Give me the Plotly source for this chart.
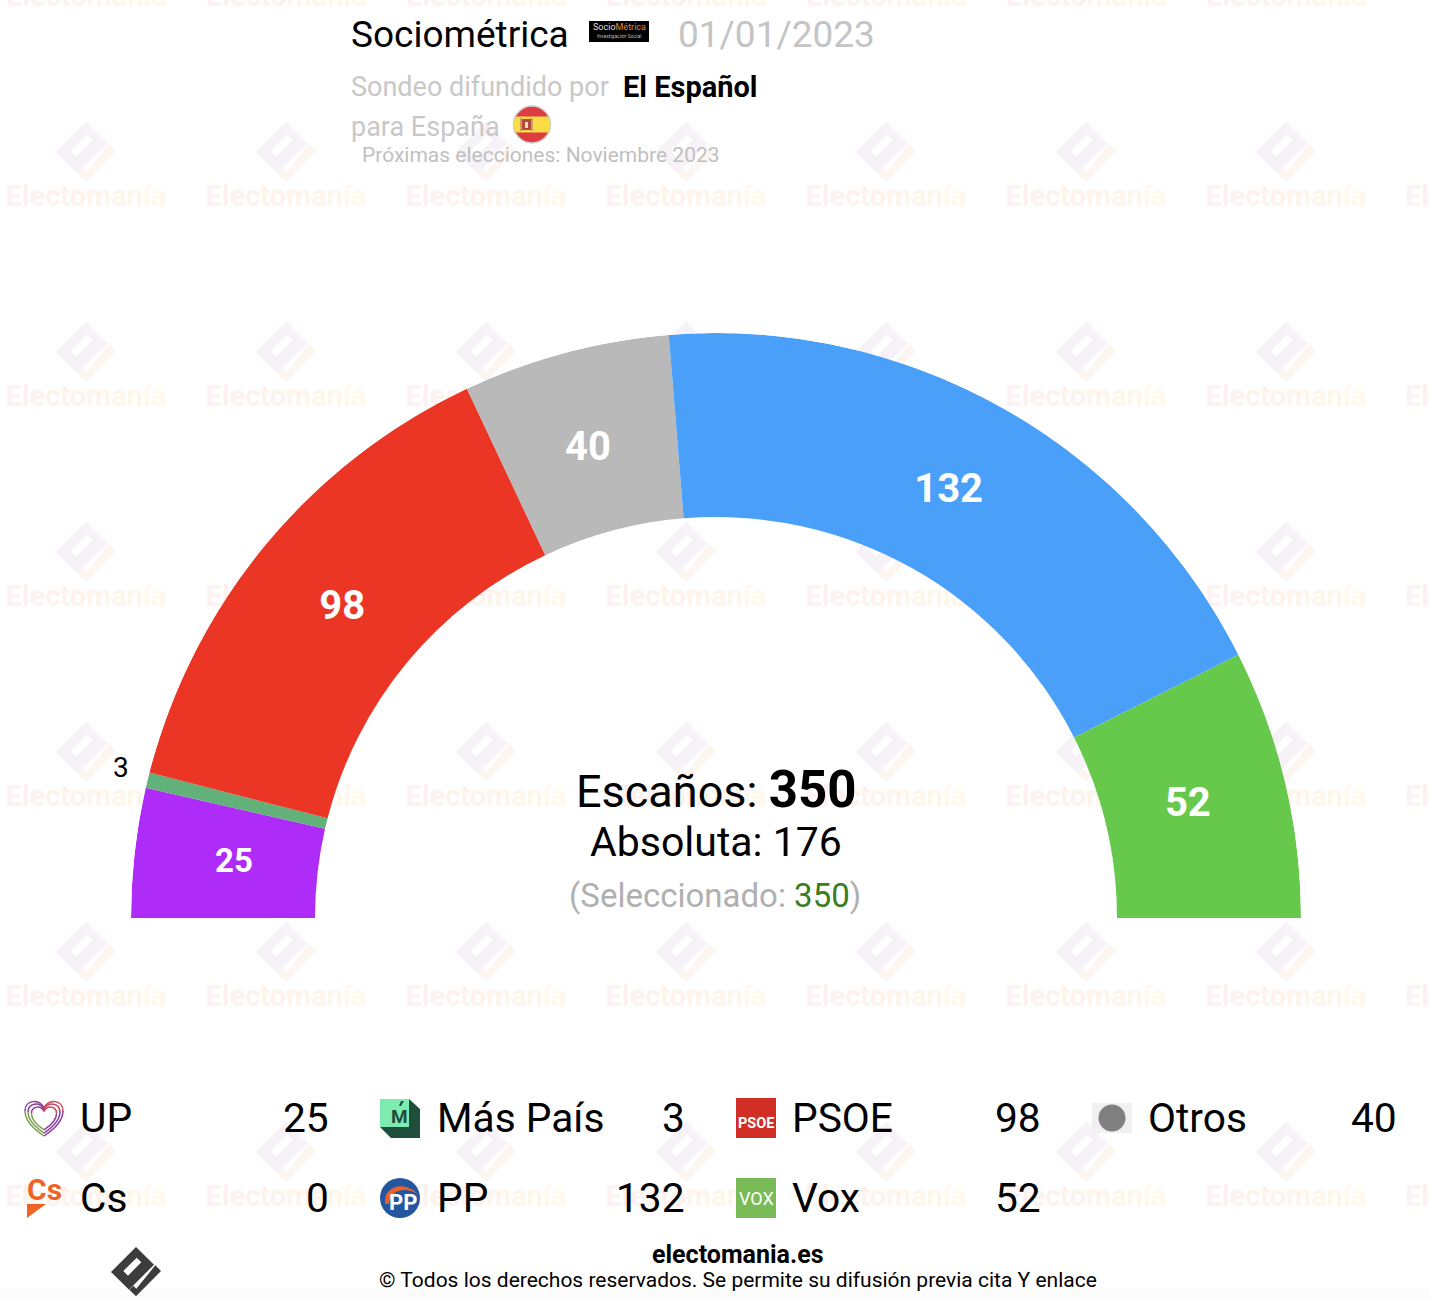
import math

import plotly.graph_objects as go

W, H = 1430, 1298

# ── Data ────────────────────────────────────────────────────────────────────
parties = ["UP", "Más País", "PSOE", "Otros", "PP", "Vox"]
seats = [25, 3, 98, 40, 132, 52]
colors = ["#ae2bf8", "#62b17a", "#ec3625", "#b9b9b9", "#4aa0f9", "#66c94b"]
label_sizes = [33, 28, 40, 40, 40, 40]
label_shift = [0, 0.6, 0, -0.4, -0.65, 0]

legend_row_1 = ["UP", "Más País", "PSOE", "Otros"]
legend_seats_1 = [25, 3, 98, 40]
legend_row_2 = ["Cs", "PP", "Vox"]
legend_seats_2 = [0, 132, 52]

total_seats = 350
majority = 176
selected = 350

# ── Geometry ────────────────────────────────────────────────────────────────
CX, CY = 716, 918
R_OUT, R_IN = 585, 401
R_LABEL = 485
R_LABEL_OUT = 614

name_x = [80, 437, 792, 1148]
value_x = [329, 685, 1041, 1397]
row_y = [1118, 1198]

degs = [s * 180 / sum(seats) for s in seats]
mids = []
acc = 0
for d in degs:
    mids.append(acc + d / 2)
    acc += d

fig = go.Figure()
shapes = []
annotations = []


def label(x, y, s, size, color="#000000", bold=False, anchor="center", yshift=0):
    xshift = {"left": -2.5, "right": 2}.get(anchor, 0)
    annotations.append(dict(
        x=x, y=y, xref="x", yref="y", text=s, showarrow=False, xanchor=anchor, yanchor="middle",
        xshift=xshift, yshift=yshift,
        font=dict(family="Roboto", size=size, color=color, weight=700 if bold else 400),
    ))


def poly(points, fill, layer="above"):
    path = "M" + " L".join(f"{x:.2f},{y:.2f}" for x, y in points) + " Z"
    shapes.append(dict(type="path", path=path, xref="x", yref="y", fillcolor=fill,
                       line=dict(width=0), layer=layer))


def rect(x0, y0, x1, y1, fill, layer="above"):
    shapes.append(dict(type="rect", x0=x0, y0=y0, x1=x1, y1=y1, xref="x", yref="y",
                       fillcolor=fill, line=dict(width=0), layer=layer))


def circle(cx, cy, r, fill, line_color=None, line_width=0, layer="above"):
    shapes.append(dict(type="circle", x0=cx - r, y0=cy - r, x1=cx + r, y1=cy + r, xref="x", yref="y",
                       fillcolor=fill, line=dict(width=line_width, color=line_color), layer=layer))


def site_logo(cx, cy, size, block, stripe, layer):
    s = size / 150
    def pt(x, y):
        return f"{cx + (x - 408) * s:.2f},{cy + (y - 575) * s:.2f}"
    path = ("M" + " L".join(pt(*p) for p in [(408, 500), (462, 553), (387, 628), (333, 575)]) + " Z "
            "M" + " L".join(pt(*p) for p in [(410, 532), (424, 546), (384, 586), (370, 572)]) + " Z")
    shapes.append(dict(type="path", path=path, xref="x", yref="y", fillcolor=block, fillrule="evenodd",
                       line=dict(width=0), layer=layer))
    p2 = [(483, 572), (408, 648), (388, 628), (400, 616), (409, 625), (466, 555)]
    poly([(cx + (x - 408) * s, cy + (y - 575) * s) for x, y in p2], stripe, layer)


# ── Watermark ───────────────────────────────────────────────────────────────
mark_colors = ["#fdf1f1", "#fdf1f0", "#fdf2ef", "#fdf2ee", "#fdf3ed", "#fdf3ec",
               "#fef4ec", "#fef5eb", "#fef6eb", "#fff7eb", "#fff8eb"]
mark_text = "".join(f'<span style="color:{c}">{ch}</span>' for ch, c in zip("Electomanía", mark_colors))
mark_x = [86 + 200 * i for i in range(7)]
mark_y = [196 + 200 * i for i in range(6)]

xs, ys = [], []
for y in mark_y:
    for x in mark_x:
        xs.append(x)
        ys.append(y + 3)
        site_logo(x, y - 44, 61, "#f6f2f8", "#fdf5f0", "below")
    label(1405, y, mark_text, 29, "#fdf1f1", bold=True, anchor="left")
for x in mark_x:
    label(x, 0, mark_text, 29, "#fdf1f1", bold=True, yshift=4)

fig.add_trace(go.Scatter(
    x=xs, y=ys, mode="text", text=[mark_text] * len(xs), cliponaxis=False, hoverinfo="skip",
    textposition="middle center", textfont=dict(family="Roboto", size=29, weight=700, color="#fdf1f1"),
    showlegend=False,
))
rect(0, 1288, W, H, "#fcfcfc", "below")

# ── Hemicycle ───────────────────────────────────────────────────────────────
fig.add_trace(go.Barpolar(
    theta=mids, width=degs, r=[R_OUT - R_IN] * len(seats), base=R_IN,
    marker=dict(color=colors, line=dict(width=0)), opacity=1, hoverinfo="skip", showlegend=False,
))
fig.add_trace(go.Scatterpolar(
    theta=[m + d for m, d in zip(mids, label_shift)], r=[R_LABEL] * len(seats), mode="text",
    text=[str(s) if s >= 10 else "" for s in seats], cliponaxis=False, hoverinfo="skip", showlegend=False,
    textfont=dict(family="Roboto", size=label_sizes, color="#ffffff", weight=700),
))
# too thin for an inside label, it sits outside the ring
for m, d, s, size in zip(mids, label_shift, seats, label_sizes):
    if s < 10:
        a = math.radians(m + d)
        label(CX - R_LABEL_OUT * math.cos(a), CY - R_LABEL_OUT * math.sin(a), str(s), size)

# ── Header ──────────────────────────────────────────────────────────────────
label(351, 34, "Sociométrica", 37, anchor="left")
rect(589, 21, 649, 42, "#000000")
label(619, 27, 'Socio<span style="color:#e08a2a">Métrica</span>', 9, "#dddddd")
label(619, 36, "Investigación Social", 5, "#bbbbbb")
label(678, 34, "01/01/2023", 37, "#c4c4c4", anchor="left")
label(351, 87, "Sondeo difundido por", 27, "#c8c8c8", anchor="left")
label(623, 87, "El Español", 29, bold=True, anchor="left")
label(351, 127, "para España", 27, "#c8c8c8", anchor="left")
label(362, 155, "Próximas elecciones: Noviembre 2023", 21, "#c0c0c0", anchor="left")

# flag
circle(532, 124.5, 18.5, "#dd3c40", "#cfcfcf", 1.5)
shapes.append(dict(type="path", path="M516,116.5 L548,116.5 C551,121 551,128 548,132.5 L516,132.5 C513,128 513,121 516,116.5 Z",
                   xref="x", yref="y", fillcolor="#f9dc46", line=dict(width=0), layer="above"))
rect(520, 118, 522, 131, "#c9a05a")
rect(522, 119, 531, 130, "#b3483e")
rect(531, 118, 533, 131, "#c9a05a")
rect(525, 122, 528, 128, "#e9d9b0")

# ── Centre text ─────────────────────────────────────────────────────────────
label(716, 789, f"Escaños: <b style='font-size:51px'>{total_seats}</b>", 45)
label(716, 842, f"Absoluta: {majority}", 41)
label(715, 895, f'(Seleccionado: <span style="color:#3a7d1e">{selected}</span>)', 33, "#b0b0b0")

# ── Legend ──────────────────────────────────────────────────────────────────
for i, (name, val) in enumerate(zip(legend_row_1, legend_seats_1)):
    label(name_x[i], row_y[0], name, 40.7, anchor="left")
    label(value_x[i], row_y[0], str(val), 40.7, anchor="right")
for i, (name, val) in enumerate(zip(legend_row_2, legend_seats_2)):
    label(name_x[i], row_y[1], name, 40.7, anchor="left")
    label(value_x[i], row_y[1], str(val), 40.7, anchor="right")


def heart(cx, cy, s):
    def p(x, y):
        return f"{cx + x * s:.2f},{cy + y * s:.2f}"
    parts = [
        (f"M{p(0, -10)} C{p(-5, -20)} {p(-19, -18)} {p(-19, -7)}", "#8b3f9f"),
        (f"M{p(-19, -7)} C{p(-19, 2)} {p(-12, 10)} {p(0, 18)}", "#7fa052"),
        (f"M{p(0, -10)} C{p(5, -20)} {p(19, -18)} {p(19, -7)}", "#c8465e"),
        (f"M{p(19, -7)} C{p(19, 2)} {p(12, 10)} {p(0, 18)}", "#8b3f9f"),
    ]
    for path, color in parts:
        shapes.append(dict(type="path", path=path, xref="x", yref="y", line=dict(width=1.5, color=color),
                           fillcolor="rgba(0,0,0,0)", layer="above"))


heart(44, 1118, 1.0)
heart(44, 1118, 0.84)
heart(44, 1118, 0.66)

# Más País
rect(380, 1099, 409, 1127, "#7eebb0")
poly([(380, 1127), (409, 1127), (409, 1099), (420, 1109), (420, 1138), (391, 1138)], "#1f4e3d")
label(399, 1116, "M", 19, "#1f4e3d", bold=True)
poly([(401, 1101), (404, 1101), (401, 1106), (399, 1106)], "#1f4e3d")

# PSOE
rect(736, 1098, 776, 1138, "#d12e26")
label(756, 1123, "PSOE", 14.5, "#ffffff", bold=True)

# Otros
rect(1092, 1103, 1132, 1133, "#f0f0f0")
circle(1112, 1118, 13.5, "#808080")

# Cs
label(44, 1189, "Cs", 30, "#ef6327", bold=True)
poly([(27, 1204), (46, 1204), (27, 1218)], "#ef6327")

# PP
circle(400, 1198, 20, "#23569f")
shapes.append(dict(type="path", path="M385,1204 C383,1186 404,1180 418,1194 C404,1186 391,1190 389,1204 Z",
                   xref="x", yref="y", fillcolor="#e8622c", line=dict(width=0), layer="above"))
label(403, 1202, "PP", 22, "#ffffff", bold=True)

# Vox
rect(736, 1178, 776, 1218, "#79bb57")
label(756, 1198, "VOX", 18, "#ffffff")

# ── Footer ──────────────────────────────────────────────────────────────────
site_logo(136, 1272, 50, "#3c3c3c", "#3c3c3c", "above")
label(738, 1254, "electomania.es", 25, bold=True)
label(738, 1280, "© Todos los derechos reservados. Se permite su difusión previa cita Y enlace", 21)

fig.update_layout(
    width=W, height=H, margin=dict(l=0, r=0, t=0, b=0),
    paper_bgcolor="#ffffff", plot_bgcolor="rgba(0,0,0,0)", showlegend=False,
    xaxis=dict(range=[0, W], visible=False, domain=[0, 1], fixedrange=True),
    yaxis=dict(range=[H, 0], visible=False, domain=[0, 1], fixedrange=True),
    polar=dict(
        domain=dict(x=[(CX - R_OUT) / W, (CX + R_OUT) / W], y=[(H - CY) / H, (H - CY + R_OUT) / H]),
        sector=[0, 180], bgcolor="rgba(0,0,0,0)",
        radialaxis=dict(range=[0, R_OUT], visible=False),
        angularaxis=dict(visible=False, rotation=180, direction="clockwise", thetaunit="degrees"),
        barmode="overlay",
    ),
    shapes=shapes, annotations=annotations,
)

fig.write_html("out.html", config=dict(displayModeBar=False), post_script="document.body.style.margin='0';")
